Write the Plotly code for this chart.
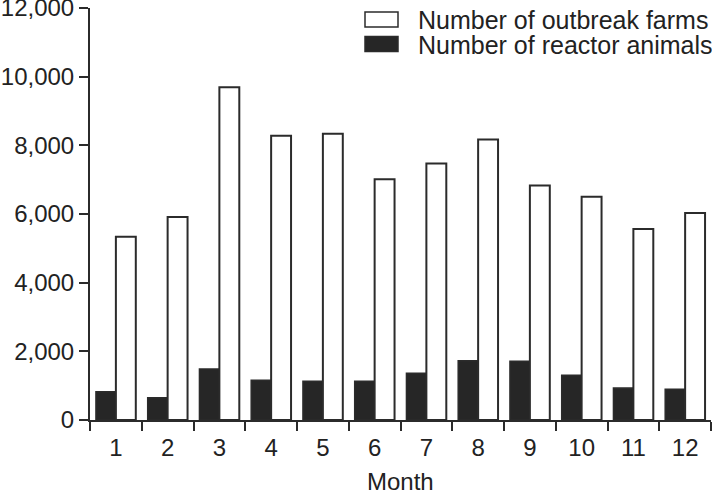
import plotly.graph_objects as go

months = [str(m) for m in range(1, 13)]
outbreak_farms = [5340, 5910, 9690, 8280, 8335, 7010, 7470, 8170, 6830, 6500, 5560, 6030]
reactor_animals = [820, 650, 1485, 1155, 1130, 1130, 1360, 1725, 1710, 1300, 930, 895]
y_ticks = [0, 2000, 4000, 6000, 8000, 10000, 12000]
y_tick_labels = ["0", "2,000", "4,000", "6,000", "8,000", "10,000", "12,000"]
legend_names = ["Number of outbreak farms", "Number of reactor animals"]
legend_fills = ["white", "#262626"]

INK = "#2b2b2b"
FONT = "Liberation Sans, Arial, sans-serif"

W, H = 712, 490
L, R, T, B = 90, 1, 8, 70


def px_x(px):
    return (px - L) / (W - L - R)


def px_y(py):
    return (H - B - py) / (H - T - B)


fig = go.Figure()

fig.add_trace(
    go.Bar(
        x=months,
        y=reactor_animals,
        name=legend_names[1],
        marker=dict(color=legend_fills[1], line=dict(color=INK, width=1.5)),
    )
)
fig.add_trace(
    go.Bar(
        x=months,
        y=outbreak_farms,
        name=legend_names[0],
        marker=dict(color=legend_fills[0], line=dict(color=INK, width=2)),
    )
)

# hand-made legend: wide flat swatches like the original
for i, (name, fill) in enumerate(zip(legend_names, legend_fills)):
    top = 12 + i * 24.5
    fig.add_shape(
        type="rect", xref="paper", yref="paper",
        x0=px_x(365), x1=px_x(398), y0=px_y(top), y1=px_y(top + 15),
        fillcolor=fill, line=dict(color=INK, width=1.5),
    )
    fig.add_annotation(
        text=name, xref="paper", yref="paper",
        x=px_x(416), y=px_y(top + 8), xanchor="left", yanchor="middle",
        showarrow=False, font=dict(size=25),
    )

# x axis title as an annotation so it can sit a bit lower
fig.add_annotation(
    text="Month", xref="paper", yref="paper",
    x=0.5, y=px_y(481), xanchor="center", yanchor="middle",
    showarrow=False, font=dict(size=24),
)

fig.update_layout(
    width=W,
    height=H,
    margin=dict(l=L, r=R, t=T, b=B),
    paper_bgcolor="white",
    plot_bgcolor="white",
    font=dict(family=FONT, size=24, color="#222222"),
    barmode="group",
    bargap=0.23,
    bargroupgap=0,
    showlegend=False,
    xaxis=dict(
        type="category",
        tickson="boundaries",
        ticks="outside",
        ticklen=9,
        tickwidth=2,
        tickcolor=INK,
        ticklabelstandoff=5,
        showline=True,
        linecolor=INK,
        linewidth=2,
        showgrid=False,
        zeroline=False,
        automargin=False,
    ),
    yaxis=dict(
        range=[0, 12000],
        tickvals=y_ticks,
        ticktext=y_tick_labels,
        ticks="outside",
        ticklen=9,
        tickwidth=2,
        tickcolor=INK,
        ticklabeloverflow="allow",
        showline=True,
        linecolor=INK,
        linewidth=2,
        showgrid=False,
        zeroline=False,
        automargin=False,
    ),
)

# page body has a default 8px margin, drop it so the figure sits at 0,0
fig.write_html(
    "out.html",
    config={"displayModeBar": False},
    post_script="document.body.style.margin='0';",
)
